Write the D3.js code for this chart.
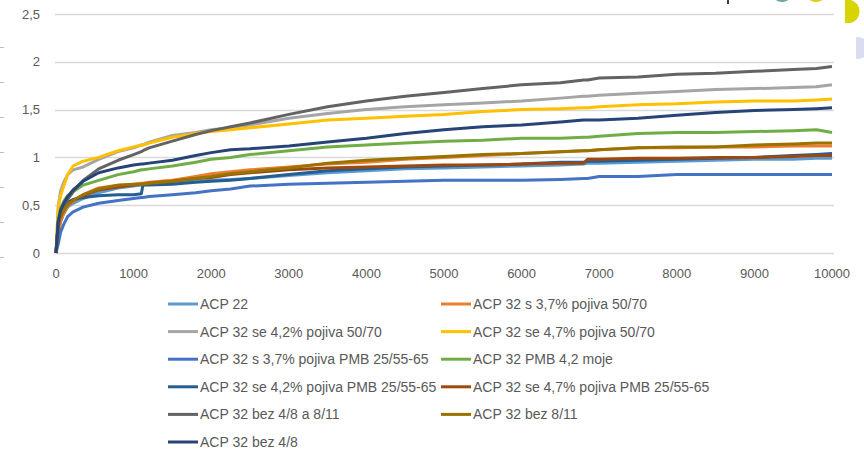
<!DOCTYPE html>
<html>
<head>
<meta charset="utf-8">
<script src="https://cdn.jsdelivr.net/npm/d3@7"></script>
<style>
  body { margin: 0; background: #fff; }
  svg { display: block; font-family: 'Liberation Sans', Arial, sans-serif; }
</style>
</head>
<body>
<div id="chart"></div>
<script>
(function(d3) {
  'use strict';

  // x values (load cycles) shared by every series
  var cycles = [0, 30, 60, 100, 150, 220, 350, 550, 800, 1000, 1100, 1120, 1200, 1500, 1800, 2000, 2250, 2500,
    3000, 3500, 4000, 4500, 5000, 5500, 6000, 6500, 6800, 6850, 7000, 7500, 8000, 8500, 9000, 9500, 9800, 10000];

  var seriesNames = [
    'ACP 22',
    'ACP 32 s 3,7% pojiva 50/70',
    'ACP 32 se 4,2% pojiva 50/70',
    'ACP 32 se 4,7% pojiva 50/70',
    'ACP 32 s 3,7% pojiva PMB 25/55-65',
    'ACP 32 PMB 4,2 moje',
    'ACP 32 se 4,2% pojiva PMB 25/55-65',
    'ACP 32 se 4,7% pojiva PMB 25/55-65',
    'ACP 32 bez 4/8 a 8/11',
    'ACP 32 bez 8/11',
    'ACP 32 bez 4/8'
  ];

  var acp22 = [0, 0.22, 0.33, 0.41, 0.48, 0.52, 0.57, 0.63, 0.68, 0.70, 0.71, 0.71, 0.72, 0.73, 0.75, 0.76, 0.77, 0.78,
    0.81, 0.84, 0.86, 0.88, 0.89, 0.90, 0.91, 0.92, 0.93, 0.94, 0.94, 0.95, 0.96, 0.97, 0.98, 0.98, 0.99, 0.99];
  var s37_5070 = [0, 0.18, 0.33, 0.42, 0.49, 0.54, 0.61, 0.68, 0.71, 0.72, 0.73, 0.73, 0.74, 0.76, 0.80, 0.83, 0.85, 0.87,
    0.90, 0.93, 0.95, 0.98, 1.00, 1.02, 1.04, 1.06, 1.07, 1.07, 1.08, 1.10, 1.10, 1.11, 1.11, 1.12, 1.12, 1.12];
  var se42_5070 = [0, 0.50, 0.65, 0.74, 0.82, 0.87, 0.90, 0.98, 1.06, 1.10, 1.13, 1.13, 1.16, 1.23, 1.26, 1.29, 1.31, 1.34,
    1.41, 1.46, 1.50, 1.53, 1.55, 1.57, 1.59, 1.62, 1.64, 1.64, 1.65, 1.67, 1.69, 1.71, 1.72, 1.73, 1.74, 1.76];
  var se47_5070 = [0, 0.48, 0.60, 0.70, 0.82, 0.91, 0.96, 1.00, 1.07, 1.11, 1.13, 1.13, 1.15, 1.21, 1.25, 1.27, 1.29, 1.31,
    1.35, 1.39, 1.41, 1.43, 1.45, 1.48, 1.50, 1.51, 1.52, 1.52, 1.53, 1.55, 1.56, 1.58, 1.59, 1.59, 1.60, 1.61];
  var s37_pmb = [0, 0.10, 0.22, 0.30, 0.38, 0.43, 0.48, 0.52, 0.55, 0.57, 0.58, 0.58, 0.59, 0.61, 0.63, 0.65, 0.67, 0.70,
    0.72, 0.73, 0.74, 0.75, 0.76, 0.76, 0.76, 0.77, 0.78, 0.78, 0.80, 0.80, 0.82, 0.82, 0.82, 0.82, 0.82, 0.82];
  var pmb42moje = [0, 0.35, 0.47, 0.54, 0.60, 0.64, 0.71, 0.76, 0.82, 0.85, 0.87, 0.87, 0.88, 0.91, 0.95, 0.98, 1.00, 1.03,
    1.07, 1.11, 1.13, 1.15, 1.17, 1.18, 1.20, 1.20, 1.21, 1.21, 1.22, 1.25, 1.26, 1.26, 1.27, 1.28, 1.29, 1.26];
  var se42_pmb = [0, 0.34, 0.42, 0.48, 0.53, 0.56, 0.58, 0.60, 0.61, 0.61, 0.62, 0.71, 0.71, 0.72, 0.74, 0.75, 0.76, 0.78,
    0.82, 0.86, 0.88, 0.90, 0.91, 0.92, 0.93, 0.95, 0.95, 0.96, 0.96, 0.97, 0.98, 0.99, 1.00, 1.02, 1.03, 1.04];
  var se47_pmb = [0, 0.32, 0.39, 0.45, 0.51, 0.55, 0.60, 0.66, 0.69, 0.71, 0.72, 0.72, 0.73, 0.75, 0.78, 0.79, 0.82, 0.84,
    0.87, 0.89, 0.90, 0.91, 0.92, 0.92, 0.93, 0.94, 0.94, 0.98, 0.98, 0.99, 0.99, 1.00, 1.00, 1.01, 1.02, 1.02];
  var bez48a811 = [0, 0.28, 0.40, 0.48, 0.56, 0.64, 0.76, 0.88, 0.97, 1.03, 1.06, 1.07, 1.10, 1.17, 1.24, 1.28, 1.32, 1.36,
    1.45, 1.53, 1.59, 1.64, 1.68, 1.72, 1.76, 1.78, 1.81, 1.81, 1.83, 1.84, 1.87, 1.88, 1.90, 1.92, 1.93, 1.95];
  var bez811 = [0, 0.33, 0.38, 0.44, 0.50, 0.55, 0.61, 0.67, 0.71, 0.72, 0.72, 0.72, 0.73, 0.75, 0.78, 0.80, 0.83, 0.85,
    0.89, 0.94, 0.97, 0.99, 1.01, 1.03, 1.04, 1.06, 1.07, 1.07, 1.08, 1.10, 1.11, 1.11, 1.13, 1.14, 1.15, 1.15];
  var bez48 = [0, 0.33, 0.45, 0.52, 0.59, 0.66, 0.75, 0.84, 0.89, 0.92, 0.93, 0.93, 0.94, 0.97, 1.02, 1.05, 1.08, 1.09,
    1.12, 1.16, 1.20, 1.25, 1.29, 1.32, 1.34, 1.37, 1.39, 1.39, 1.39, 1.41, 1.44, 1.47, 1.49, 1.50, 1.51, 1.52];

  var seriesValues = [acp22, s37_5070, se42_5070, se47_5070, s37_pmb, pmb42moje,
    se42_pmb, se47_pmb, bez48a811, bez811, bez48];

  var xTicks = d3.range(0, 10001, 1000);
  var yTicks = [0, 0.5, 1, 1.5, 2, 2.5];

  // office palette
  var colors = ['#5B9BD5', '#ED7D31', '#A5A5A5', '#FFC000', '#4472C4', '#70AD47',
    '#255E91', '#9E480E', '#636363', '#997300', '#264478'];

  var width = 864;
  var height = 450;
  var margin = { left: 56, right: 32, top: 14, bottom: 197 };

  var svg = d3.select('#chart')
    .append('svg')
      .attr('width', width)
      .attr('height', height);

  var x = d3.scaleLinear().domain([0, 10000]).range([margin.left, width - margin.right]);
  var y = d3.scaleLinear().domain([0, 2.5]).range([height - margin.bottom, margin.top]);

  // gridlines
  svg.append('g')
    .selectAll('line')
    .data(yTicks)
    .enter()
    .append('line')
      .attr('x1', x(0) - 1)
      .attr('x2', x(10000) + 2)
      .attr('y1', function(d) { return Math.round(y(d)) + 0.5; })
      .attr('y2', function(d) { return Math.round(y(d)) + 0.5; })
      .attr('stroke', '#d9d9d9')
      .attr('stroke-width', 1.5);

  // y labels
  svg.append('g')
    .selectAll('text')
    .data(yTicks)
    .enter()
    .append('text')
      .attr('x', 40)
      .attr('y', function(d) { return y(d) + 4.5; })
      .attr('text-anchor', 'end')
      .attr('fill', '#595959')
      .style('font-size', '13px')
      .text(function(d) { return String(d).replace('.', ','); });

  // x labels
  svg.append('g')
    .selectAll('text')
    .data(xTicks)
    .enter()
    .append('text')
      .attr('x', function(d) { return x(d); })
      .attr('y', 278)
      .attr('text-anchor', 'middle')
      .attr('fill', '#595959')
      .style('font-size', '13px')
      .text(function(d) { return d; });

  var line = d3.line()
    .x(function(d) { return x(d[0]); })
    .y(function(d) { return y(d[1]); });

  svg.append('g')
    .selectAll('path')
    .data(seriesValues)
    .enter()
    .append('path')
      .attr('d', function(vals) {
        return line(cycles.map(function(c, i) { return [c, vals[i]]; }));
      })
      .attr('fill', 'none')
      .attr('stroke', function(d, i) { return colors[i]; })
      .attr('stroke-width', 3)
      .attr('stroke-linejoin', 'round');

  // legend, two columns
  var legendX = [168, 441];
  var legendY0 = 304;
  var legendRow = 27.6;

  var legend = svg.selectAll('.legend')
    .data(seriesNames)
    .enter()
    .append('g')
      .attr('class', 'legend')
      .attr('transform', function(d, i) {
        return 'translate(' + legendX[i % 2] + ',' + (legendY0 + Math.floor(i / 2) * legendRow) + ')';
      });

  legend.append('line')
    .attr('x1', 0)
    .attr('x2', 30)
    .attr('stroke', function(d, i) { return colors[i]; })
    .attr('stroke-width', 3);

  legend.append('text')
    .attr('x', 32)
    .attr('y', 5)
    .attr('fill', '#595959')
    .style('font-size', '14px')
    .text(function(d) { return d; });

  // leftovers of the screenshot edges
  svg.append('g')
    .selectAll('line')
    .data(d3.range(7))
    .enter()
    .append('line')
      .attr('x1', 0).attr('x2', 4)
      .attr('y1', function(d) { return 47.5 + d * 35; })
      .attr('y2', function(d) { return 47.5 + d * 35; })
      .attr('stroke', '#bfbfbf');

  var bits = svg.append('g');
  bits.append('line').attr('x1', 728).attr('x2', 728).attr('y1', 0).attr('y2', 4)
    .attr('stroke', '#000').attr('stroke-width', 1.5);
  bits.append('circle').attr('cx', 782).attr('cy', -9).attr('r', 11).attr('fill', '#6aa6a6');
  bits.append('circle').attr('cx', 816).attr('cy', -9).attr('r', 11).attr('fill', '#d8d400');
  bits.append('path').attr('d', 'M845,0 L851,0 A12,12 0 0 1 851,23 L845,23 Z').attr('fill', '#d8d400');
  bits.append('path').attr('d', 'M856,37 L858,37 A11,11 0 0 1 858,59 L856,59 Z').attr('fill', '#dcdcf0');
})(window.d3);
</script>
</body>
</html>
